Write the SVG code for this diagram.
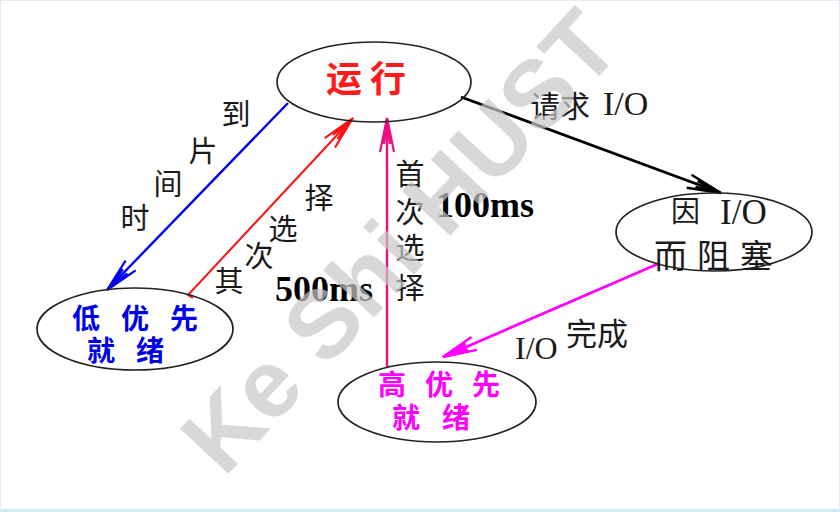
<svg xmlns="http://www.w3.org/2000/svg" width="840" height="512" viewBox="0 0 840 512">
<style>
.node ellipse{fill:none;stroke:#222;stroke-width:1.7}
.cjk{font-family:"Noto Sans CJK SC","Noto Sans",sans-serif}
.lab{font-family:"Noto Sans CJK SC","Noto Sans",sans-serif;font-size:29px;fill:#1a1a1a;text-anchor:middle}
.ser{font-family:"Liberation Serif","Noto Sans CJK SC",serif;fill:#1a1a1a}
.ms{font-family:"Liberation Serif",serif;font-weight:bold;font-size:36px;fill:#000}
.conn line,.conn path{fill:none}
</style>
<defs>
<marker id="aB" markerUnits="userSpaceOnUse" orient="auto" viewBox="-40 -10 44 20" refX="0" refY="0" markerWidth="44" markerHeight="20" overflow="visible"><path d="M-34,-7 L0,0 L-34,7 M-26,-3 L-4,0 L-26,3" fill="none" stroke="#0000ee" stroke-width="2.2"/></marker>
<marker id="aR" markerUnits="userSpaceOnUse" orient="auto" viewBox="-40 -10 44 20" refX="0" refY="0" markerWidth="44" markerHeight="20" overflow="visible"><path d="M-34,-7 L0,0 L-34,7 M-26,-3 L-4,0 L-26,3" fill="none" stroke="#ff1010" stroke-width="2"/></marker>
<marker id="aP" markerUnits="userSpaceOnUse" orient="auto" viewBox="-40 -10 44 20" refX="0" refY="0" markerWidth="44" markerHeight="20" overflow="visible"><path d="M-34,-7 L0,0 L-34,7 M-26,-3 L-4,0 L-26,3" fill="none" stroke="#ec0c84" stroke-width="2.2"/></marker>
<marker id="aK" markerUnits="userSpaceOnUse" orient="auto" viewBox="-40 -10 44 20" refX="0" refY="0" markerWidth="44" markerHeight="20" overflow="visible"><path d="M-34,-7 L0,0 L-34,7 M-26,-3 L-4,0 L-26,3" fill="none" stroke="#000" stroke-width="2.4"/></marker>
<marker id="aM" markerUnits="userSpaceOnUse" orient="auto" viewBox="-40 -10 44 20" refX="0" refY="0" markerWidth="44" markerHeight="20" overflow="visible"><path d="M-34,-7 L0,0 L-34,7 M-26,-3 L-4,0 L-26,3" fill="none" stroke="#ff00ff" stroke-width="2.4"/></marker>
</defs>
<rect x="0" y="0" width="840" height="512" fill="#fff"/>
<rect x="0.5" y="0.5" width="839" height="511" fill="none" stroke="#e4eaf0"/>
<line x1="0" y1="510.5" x2="840" y2="510.5" stroke="#cfe9f5" stroke-width="3"/>

<g class="conn" id="connectors">
<line x1="288" y1="103" x2="107" y2="290" stroke="#0000ee" stroke-width="2.4" marker-end="url(#aB)"/>
<path d="M193,298 L188,295 L353,118" stroke="#ff1010" stroke-width="2" marker-end="url(#aR)"/>
<line x1="387" y1="368" x2="387" y2="118" stroke="#ec0c84" stroke-width="2.4" marker-end="url(#aP)"/>
<line x1="461" y1="97" x2="721" y2="193" stroke="#000" stroke-width="2.8" marker-end="url(#aK)"/>
<line x1="660" y1="263" x2="443" y2="357" stroke="#ff00ff" stroke-width="2.8" marker-end="url(#aM)"/>
</g>

<g id="running" class="node">
<ellipse cx="374" cy="82" rx="97" ry="40"/>
<text class="cjk" x="326" y="92" font-size="36" font-weight="bold" fill="#ff1a1a" letter-spacing="8">运行</text>
</g>
<g id="blocked" class="node">
<ellipse cx="714" cy="232" rx="98" ry="39"/>
<text class="cjk" x="671" y="222" font-size="29" fill="#1a1a1a">因</text>
<text class="ser" x="720" y="224" font-size="35">I/O</text>
<text class="cjk" x="654" y="268" font-size="33" fill="#1a1a1a" letter-spacing="10">而阻塞</text>
</g>
<g id="low-ready" class="node">
<ellipse cx="135" cy="329" rx="98" ry="41"/>
<text class="cjk" x="72" y="329" font-size="28" font-weight="bold" fill="#0000ee" letter-spacing="21">低优先</text>
<text class="cjk" x="87" y="361" font-size="28" font-weight="bold" fill="#0000ee" letter-spacing="21">就绪</text>
</g>
<g id="high-ready" class="node">
<ellipse cx="437" cy="402" rx="99" ry="40"/>
<text class="cjk" x="378" y="395" font-size="28" font-weight="bold" fill="#ff00ff" letter-spacing="19">高优先</text>
<text class="cjk" x="392" y="428" font-size="28" font-weight="bold" fill="#ff00ff" letter-spacing="22">就绪</text>
</g>

<g id="labels">
<text class="lab" x="236" y="125">到</text>
<text class="lab" x="203" y="162">片</text>
<text class="lab" x="168" y="195">间</text>
<text class="lab" x="135" y="229">时</text>
<text class="lab" x="319" y="209">择</text>
<text class="lab" x="283" y="240">选</text>
<text class="lab" x="259" y="267">次</text>
<text class="lab" x="229" y="292">其</text>
<text class="lab" x="410" y="185">首</text>
<text class="lab" x="410" y="223">次</text>
<text class="lab" x="410" y="259">选</text>
<text class="lab" x="410" y="299">择</text>
<text class="cjk" x="530" y="117" font-size="30" fill="#1a1a1a">请求</text>
<text class="ser" x="603" y="115" font-size="34">I/O</text>
<text class="ser" x="515" y="359" font-size="32">I/O</text>
<text class="cjk" x="566" y="345" font-size="31" fill="#1a1a1a">完成</text>
<text class="ms" x="436" y="217">100ms</text>
<text class="ms" x="275" y="301">500ms</text>
</g>

<text transform="translate(424,264) rotate(-47)" x="0" y="0" text-anchor="middle" font-family="Liberation Sans, Arial, sans-serif" font-weight="bold" font-size="96" fill="#c8c8c8" opacity="0.7">Ke Shi HUST</text>
</svg>
